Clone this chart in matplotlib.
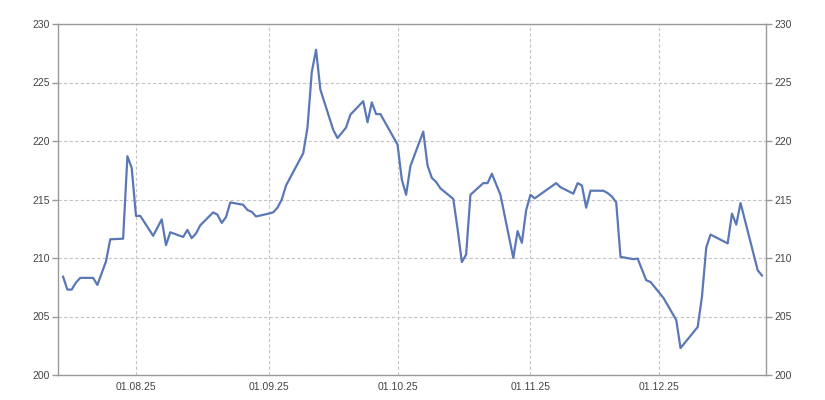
import pandas as pd
import matplotlib
matplotlib.use("Agg")
import matplotlib.pyplot as plt
import matplotlib.dates as mdates

# values
dates = [
    "2025-07-15", "2025-07-16", "2025-07-17", "2025-07-18", "2025-07-19",
    "2025-07-22", "2025-07-23", "2025-07-24", "2025-07-25", "2025-07-26",
    "2025-07-29", "2025-07-30", "2025-07-31", "2025-08-01", "2025-08-02",
    "2025-08-05", "2025-08-07", "2025-08-08", "2025-08-09", "2025-08-12",
    "2025-08-13", "2025-08-14", "2025-08-15", "2025-08-16", "2025-08-19",
    "2025-08-20", "2025-08-21", "2025-08-22", "2025-08-23", "2025-08-26",
    "2025-08-27", "2025-08-28", "2025-08-29", "2025-09-01", "2025-09-02",
    "2025-09-03", "2025-09-04", "2025-09-05", "2025-09-09", "2025-09-10",
    "2025-09-11", "2025-09-12", "2025-09-13", "2025-09-16", "2025-09-17",
    "2025-09-19", "2025-09-20", "2025-09-23", "2025-09-24", "2025-09-25",
    "2025-09-26", "2025-09-27", "2025-10-01", "2025-10-02", "2025-10-03",
    "2025-10-04", "2025-10-07", "2025-10-08", "2025-10-09", "2025-10-10",
    "2025-10-11", "2025-10-14", "2025-10-15", "2025-10-16", "2025-10-17",
    "2025-10-18", "2025-10-21", "2025-10-22", "2025-10-23", "2025-10-25",
    "2025-10-28", "2025-10-29", "2025-10-30", "2025-10-31", "2025-11-01",
    "2025-11-02", "2025-11-07", "2025-11-08", "2025-11-11", "2025-11-12",
    "2025-11-13", "2025-11-14", "2025-11-15", "2025-11-18", "2025-11-19",
    "2025-11-20", "2025-11-21", "2025-11-22", "2025-11-25", "2025-11-26",
    "2025-11-28", "2025-11-29", "2025-12-02", "2025-12-05", "2025-12-06",
    "2025-12-10", "2025-12-11", "2025-12-12", "2025-12-13", "2025-12-17",
    "2025-12-18", "2025-12-19", "2025-12-20", "2025-12-24", "2025-12-25",
]
values = [
    208.4, 207.3, 207.3, 207.9, 208.3,
    208.3, 207.7, 208.7, 209.7, 211.6,
    211.65, 218.7, 217.7, 213.6, 213.6,
    211.9, 213.3, 211.1, 212.2, 211.8,
    212.4, 211.7, 212.1, 212.8, 213.9,
    213.7, 213.0, 213.5, 214.75, 214.55,
    214.1, 213.95, 213.55, 213.8, 213.9,
    214.3, 215.0, 216.2, 218.95, 221.15,
    225.9, 227.8, 224.4, 220.95, 220.25,
    221.15, 222.25, 223.4, 221.6, 223.3,
    222.3, 222.3, 219.7, 216.7, 215.4,
    217.85, 220.8, 217.9, 216.85, 216.5,
    215.95, 215.05, 212.5, 209.65, 210.3,
    215.4, 216.4, 216.4, 217.2, 215.4,
    210.0, 212.3, 211.3, 214.1, 215.4,
    215.1, 216.4, 216.05, 215.5, 216.4,
    216.2, 214.3, 215.75, 215.75, 215.55,
    215.25, 214.75, 210.1, 209.9, 209.95,
    208.1, 207.95, 206.6, 204.7, 202.3,
    204.1, 206.7, 210.9, 212.0, 211.25,
    213.8, 212.85, 214.7, 208.95, 208.5,
]
x_ticks = ["2025-08-01", "2025-09-01", "2025-10-01", "2025-11-01", "2025-12-01"]
y_ticks = [200, 205, 210, 215, 220, 225, 230]

plt.rcParams['font.family'] = ['Liberation Sans', 'DejaVu Sans']

fig = plt.figure(figsize=(8.25, 4), dpi=100)
ax = fig.add_axes([0.0703, 0.0625, 0.8582, 0.8775])

ax.plot(pd.to_datetime(dates), values, color="#5a78b6", linewidth=1.6, zorder=3)

ax.set_xlim(pd.Timestamp("2025-07-13 19:30"), pd.Timestamp("2025-12-25 22:30"))
ax.set_ylim(200, 230)
ax.set_yticks(y_ticks)
ax.set_xticks(pd.to_datetime(x_ticks))
ax.xaxis.set_major_formatter(mdates.DateFormatter("%d.%m.%y"))

ax.grid(True, color="#c4c4c4", linestyle=(0, (3, 2)), linewidth=0.8, zorder=0)
for s in ax.spines.values():
    s.set_color("#999999")
    s.set_linewidth(1.0)

ax.tick_params(axis="y", left=True, right=True, labelleft=True, labelright=True,
               length=4, width=1.0, color="#999999", labelsize=7.5,
               labelcolor="#444444", pad=2)
ax.tick_params(axis="x", length=0, labelsize=7.5, labelcolor="#444444", pad=5)

fig.savefig("out.png", dpi=100)
